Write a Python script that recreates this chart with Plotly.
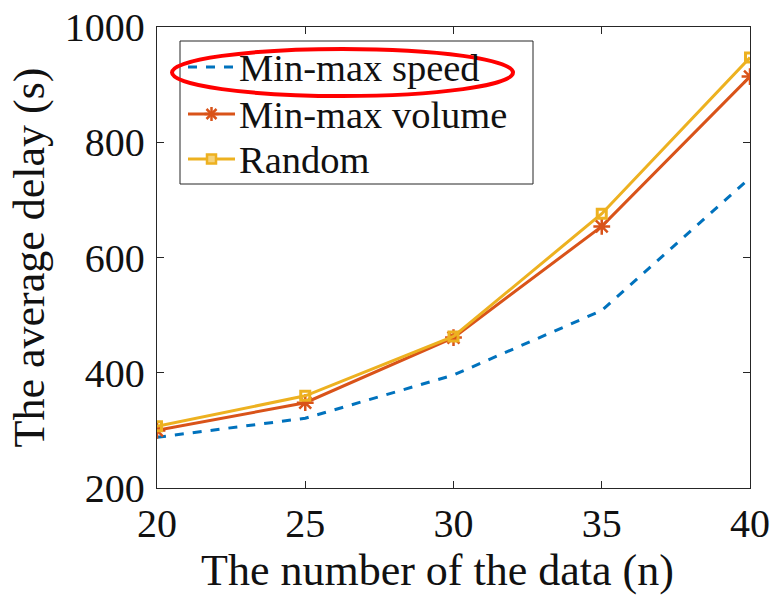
import plotly.graph_objects as go

x_vals = [20, 25, 30, 35, 40]
speed = [288, 321, 396, 508, 738]
volume = [300, 348, 461, 654, 914]
random_ = [307, 360, 463, 676, 947]
y_ticks = [200, 400, 600, 800, 1000]
x_ticks = [20, 25, 30, 35, 40]
series_names = ["Min-max speed", "Min-max volume", "Random"]
series_colors = ["#0072BD", "#D95319", "#EDB120"]

FONT = "Liberation Serif"
AX = "#262626"
TXT = "#111111"

W, H = 774, 597
L, R, T, B = 157, 24, 27, 109
PW, PH = W - L - R, H - T - B


def px(xp):
    return (xp - L) / PW


def py(yp):
    return (H - B - yp) / PH


fig = go.Figure()
fig.add_trace(go.Scatter(x=x_vals, y=speed, mode="lines", name=series_names[0],
                         line=dict(color=series_colors[0], width=3, dash="dash")))
fig.add_trace(go.Scatter(x=x_vals, y=volume, mode="lines+markers", name=series_names[1],
                         line=dict(color=series_colors[1], width=3),
                         marker=dict(symbol="asterisk-open", size=14,
                                     line=dict(color=series_colors[1], width=2.5))))
fig.add_trace(go.Scatter(x=x_vals, y=random_, mode="lines+markers", name=series_names[2],
                         line=dict(color=series_colors[2], width=3),
                         marker=dict(symbol="square-open", size=9, color=series_colors[2],
                                     line=dict(color=series_colors[2], width=3))))

fig.update_layout(
    width=W, height=H,
    margin=dict(l=L, r=R, t=T, b=B, autoexpand=False),
    paper_bgcolor="white", plot_bgcolor="white",
    font=dict(family=FONT, color=TXT, size=40),
    showlegend=False,
    xaxis=dict(range=[20, 40], tickvals=x_ticks, ticks="inside", ticklen=7,
               tickcolor=AX, showline=True, linecolor=AX, linewidth=1.3,
               mirror="ticks", showgrid=False, zeroline=False, automargin=False,
               tickfont=dict(family=FONT, size=40, color=TXT)),
    yaxis=dict(range=[200, 1000], tickvals=y_ticks, ticks="inside", ticklen=7,
               tickcolor=AX, showline=True, linecolor=AX, linewidth=1.3,
               mirror="ticks", showgrid=False, zeroline=False, automargin=False,
               ticklabelstandoff=3,
               tickfont=dict(family=FONT, size=40, color=TXT),
               title=dict(text="The average delay (s)",
                          font=dict(family=FONT, size=44, color=TXT), standoff=6)),
)

# x-axis title (slightly left of centre, as in the reference)
fig.add_annotation(text="The number of the data (n)", xref="paper", yref="paper",
                   x=px(437.5), y=py(570), xanchor="center", yanchor="middle",
                   showarrow=False, font=dict(family=FONT, size=44, color=TXT))

# legend drawn manually (box, samples, labels)
fig.add_shape(type="rect", xref="paper", yref="paper",
              x0=px(180), x1=px(533), y0=py(184), y1=py(41),
              line=dict(color=AX, width=1), fillcolor="white", layer="above")

row_y = [67, 114, 159]
sx0, sx1, scx = 188, 235, 211.5
# speed sample (dashed)
fig.add_shape(type="line", xref="paper", yref="paper",
              x0=px(sx0), x1=px(sx1), y0=py(row_y[0]), y1=py(row_y[0]),
              line=dict(color=series_colors[0], width=3, dash="dash"), layer="above")
# volume sample with asterisk
fig.add_shape(type="line", xref="paper", yref="paper",
              x0=px(sx0), x1=px(sx1), y0=py(row_y[1]), y1=py(row_y[1]),
              line=dict(color=series_colors[1], width=3), layer="above")
for dx, dy in [(7, 0), (0, 7), (5, 5), (5, -5)]:
    fig.add_shape(type="line", xref="paper", yref="paper",
                  x0=px(scx - dx), x1=px(scx + dx),
                  y0=py(row_y[1] - dy), y1=py(row_y[1] + dy),
                  line=dict(color=series_colors[1], width=2.5), layer="above")
# random sample with square
fig.add_shape(type="line", xref="paper", yref="paper",
              x0=px(sx0), x1=px(sx1), y0=py(row_y[2]), y1=py(row_y[2]),
              line=dict(color=series_colors[2], width=3), layer="above")
fig.add_shape(type="rect", xref="paper", yref="paper",
              x0=px(scx - 4.5), x1=px(scx + 4.5), y0=py(row_y[2] + 4.5), y1=py(row_y[2] - 4.5),
              line=dict(color=series_colors[2], width=2.5), fillcolor="#F5D27A",
              layer="above")
for name, yy in zip(series_names, row_y):
    fig.add_annotation(text=name, xref="paper", yref="paper",
                       x=px(237), y=py(yy + 1), xanchor="left", yanchor="middle",
                       showarrow=False, font=dict(family=FONT, size=38.5, color=TXT))

# red highlight ellipse
fig.add_shape(type="circle", xref="paper", yref="paper",
              x0=px(172), x1=px(513), y0=py(96), y1=py(49),
              line=dict(color="#FF0000", width=4), layer="above")

fig.write_html("out.html")
